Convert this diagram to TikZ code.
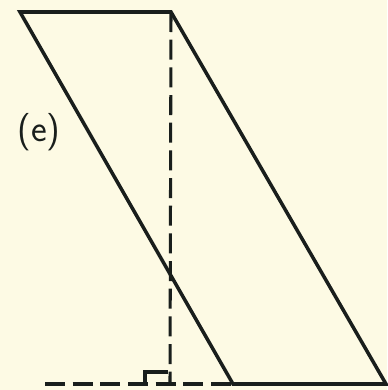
\documentclass[tikz,border=0pt]{standalone}
\usetikzlibrary{positioning,calc}
\definecolor{paper}{RGB}{253,250,228}
\definecolor{ink}{RGB}{25,30,28}
\tikzset{
  edge/.style={ink, line width=3pt, line join=miter},
  guide/.style={ink, line width=2.6pt, dash pattern=on 0.6cm off 0.23cm},
}

\begin{document}
\begin{tikzpicture}[x=0.03cm, y=-0.03cm]
    % 背景
    \fill[paper] (0,0) rectangle (387,390);
    \useasboundingbox (0,0) rectangle (387,390);

    % 顶点
    \coordinate (A) at (20,12);
    \coordinate (B) at (171,12);
    \coordinate (C) at (386,384);
    \coordinate (D) at (233,384);
    \coordinate (F) at (170,384);
    \coordinate (G) at (45,384);

    % 平行四边形
    \draw[edge] (A) -- (B) -- (C) -- (D) -- cycle;

    % 高与底边延长线
    \draw[guide] (B) -- (F);
    \draw[guide] (G) -- (D);

    % 直角标记
    \draw[ink, line width=2.6pt] (145,384) -- (145,372) -- (168,372);

    % 标注
    \node[ink, font=\sffamily\fontsize{32}{36}\selectfont] (lbl) at (39,132) {(e)};
\end{tikzpicture}
\end{document}
